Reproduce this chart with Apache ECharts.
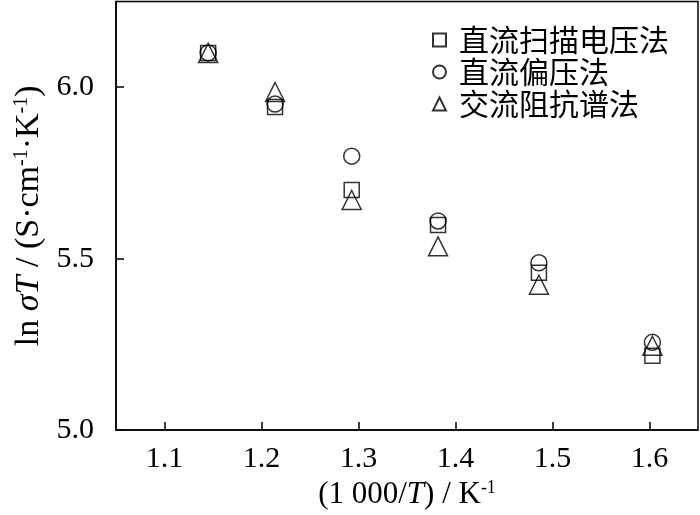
<!DOCTYPE html>
<html>
<head>
<meta charset="utf-8">
<script src="https://cdn.jsdelivr.net/npm/echarts@6/dist/echarts.min.js"></script>
<style>
html,body{margin:0;padding:0;background:#fff;}
#chart{width:700px;height:515px;}
</style>
</head>
<body>
<div id="chart"></div>
<script>
// Data
const xValues = [1.145, 1.214, 1.293, 1.382, 1.486, 1.603];
const dcSweep = [6.10, 5.942, 5.700, 5.598, 5.459, 5.217];   // 直流扫描电压法
const dcBias = [6.10, 5.951, 5.799, 5.610, 5.488, 5.256];    // 直流偏压法
const acImpedance = [6.10, 5.986, 5.671, 5.536, 5.424, 5.246]; // 交流阻抗谱法
const seriesNames = ['直流扫描电压法', '直流偏压法', '交流阻抗谱法'];
const xTicks = [1.1, 1.2, 1.3, 1.4, 1.5, 1.6];
const yTicks = [5.0, 5.5, 6.0];

function pairs(ys) { return xValues.map((x, i) => [x, ys[i]]); }

const serif = '"Liberation Serif", "Times New Roman", serif';
const chart = echarts.init(document.getElementById('chart'));
const markerStyle = { color: 'rgba(255,255,255,0)', borderColor: '#000', borderWidth: 1.5 };

chart.setOption({
  backgroundColor: '#fff',
  animation: false,
  grid: { left: 116, right: 2, top: 1.5, bottom: 82, show: true, borderColor: '#000', borderWidth: 1.5, backgroundColor: 'transparent' },
  legend: {
    orient: 'vertical', left: 427, top: 19, itemGap: 0,
    itemWidth: 13, itemHeight: 13,
    data: seriesNames,
    textStyle: { fontFamily: '"Noto Sans CJK SC"', fontSize: 30, color: '#000', lineHeight: 32, padding: [0, 0, 0, 8] }
  },
  xAxis: {
    type: 'value', min: 1.05, max: 1.65,
    axisLine: { show: true, lineStyle: { color: '#000', width: 1.5 } },
    axisTick: { show: true, inside: true, length: 8, customValues: xTicks, lineStyle: { color: '#000', width: 1.5 } },
    axisLabel: { customValues: xTicks, margin: 14, fontFamily: serif, fontSize: 30, color: '#000', formatter: v => v.toFixed(1) },
    splitLine: { show: false },
    name: '(1 000/{i|T}) / K{s|-1}', nameLocation: 'middle', nameGap: 45,
    nameTextStyle: { fontFamily: serif, fontSize: 31, color: '#000',
      rich: { i: { fontFamily: serif, fontSize: 31, fontStyle: 'italic', color: '#000' },
              s: { fontFamily: serif, fontSize: 18, verticalAlign: 'top', color: '#000' } } }
  },
  yAxis: {
    type: 'value', min: 5.0, max: 6.25,
    axisLine: { show: true, lineStyle: { color: '#000', width: 1.5 } },
    axisTick: { show: true, inside: true, length: 8, customValues: yTicks, lineStyle: { color: '#000', width: 1.5 } },
    axisLabel: { customValues: yTicks, margin: 22, fontFamily: serif, fontSize: 30, color: '#000', formatter: v => v.toFixed(1) },
    splitLine: { show: false },
    name: 'ln {i|σT} / (S·cm{s|-1}·K{s|-1})', nameLocation: 'middle', nameGap: 63,
    nameTextStyle: { fontFamily: serif, fontSize: 34, color: '#000',
      rich: { i: { fontFamily: serif, fontSize: 34, fontStyle: 'italic', color: '#000' },
              s: { fontFamily: serif, fontSize: 20, verticalAlign: 'top', color: '#000' } } }
  },
  series: [
    { name: seriesNames[0], type: 'scatter', symbol: 'rect', symbolSize: 15, itemStyle: markerStyle, data: pairs(dcSweep) },
    { name: seriesNames[1], type: 'scatter', symbol: 'circle', symbolSize: 16, itemStyle: markerStyle, data: pairs(dcBias) },
    { name: seriesNames[2], type: 'scatter', symbol: 'triangle', symbolSize: 19, itemStyle: markerStyle, data: pairs(acImpedance) }
  ]
});
</script>
</body>
</html>
